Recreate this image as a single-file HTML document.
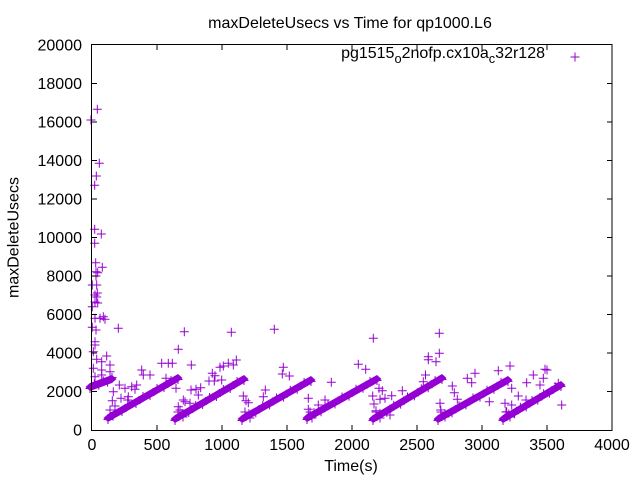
<!DOCTYPE html>
<html>
<head>
<meta charset="utf-8">
<style>
html,body{margin:0;padding:0;background:#fff;}
svg{display:block;}
text{font-family:"Liberation Sans",Arial,sans-serif;font-size:16px;fill:#000;}
</style>
</head>
<body>
<svg width="640" height="480" viewBox="0 0 640 480" xmlns="http://www.w3.org/2000/svg">
<defs>
<path id="p" d="M-4.5,0h9M0,-4.5v9" stroke="#9400D3" stroke-width="1" fill="none"/>
</defs>
<rect x="0" y="0" width="640" height="480" fill="#fff"/>

<g fill="#9400D3" stroke="none">
<polygon points="85.5,387 90,383 112,375 116.5,379 112,383 90,391"/>
<polygon points="103.5,418 108,414 178,374 182.5,378 178,382 108,422"/>
<polygon points="170.5,419 175,415 244,375 248.5,379 244,383 175,423"/>
<polygon points="237.5,419 242,415 311,376 315.5,380 311,384 242,423"/>
<polygon points="302.5,418 307,414 377,375 381.5,379 377,383 307,422"/>
<polygon points="368.5,419 373,415 442,374 446.5,378 442,382 373,423"/>
<polygon points="433.5,419 438,415 508,376 512.5,380 508,384 438,423"/>
<polygon points="498.5,419 503,415 561,381 565.5,385 561,389 503,423"/>
</g>

<g>
<use href="#p" x="90" y="388.5"/><use href="#p" x="94.4" y="383.9"/><use href="#p" x="98.8" y="385.3"/><use href="#p" x="103.2" y="380.7"/><use href="#p" x="107.6" y="382.1"/><use href="#p" x="112" y="377.5"/>
<use href="#p" x="108" y="419.5"/><use href="#p" x="115" y="412.5"/><use href="#p" x="122" y="411.5"/><use href="#p" x="129" y="404.5"/><use href="#p" x="136" y="403.5"/><use href="#p" x="143" y="396.5"/><use href="#p" x="150" y="395.5"/><use href="#p" x="157" y="388.5"/><use href="#p" x="164" y="387.5"/><use href="#p" x="171" y="380.5"/><use href="#p" x="178" y="379.5"/>
<use href="#p" x="175" y="420.5"/><use href="#p" x="181.9" y="413.5"/><use href="#p" x="188.8" y="412.5"/><use href="#p" x="195.7" y="405.5"/><use href="#p" x="202.6" y="404.5"/><use href="#p" x="209.5" y="397.5"/><use href="#p" x="216.4" y="396.5"/><use href="#p" x="223.3" y="389.5"/><use href="#p" x="230.2" y="388.5"/><use href="#p" x="237.1" y="381.5"/><use href="#p" x="244" y="380.5"/>
<use href="#p" x="242" y="420.5"/><use href="#p" x="248.9" y="413.6"/><use href="#p" x="255.8" y="412.7"/><use href="#p" x="262.7" y="405.8"/><use href="#p" x="269.6" y="404.9"/><use href="#p" x="276.5" y="398"/><use href="#p" x="283.4" y="397.1"/><use href="#p" x="290.3" y="390.2"/><use href="#p" x="297.2" y="389.3"/><use href="#p" x="304.1" y="382.4"/><use href="#p" x="311" y="381.5"/>
<use href="#p" x="307" y="419.5"/><use href="#p" x="314" y="412.6"/><use href="#p" x="321" y="411.7"/><use href="#p" x="328" y="404.8"/><use href="#p" x="335" y="403.9"/><use href="#p" x="342" y="397"/><use href="#p" x="349" y="396.1"/><use href="#p" x="356" y="389.2"/><use href="#p" x="363" y="388.3"/><use href="#p" x="370" y="381.4"/><use href="#p" x="377" y="380.5"/>
<use href="#p" x="373" y="420.5"/><use href="#p" x="379.9" y="413.4"/><use href="#p" x="386.8" y="412.3"/><use href="#p" x="393.7" y="405.2"/><use href="#p" x="400.6" y="404.1"/><use href="#p" x="407.5" y="397"/><use href="#p" x="414.4" y="395.9"/><use href="#p" x="421.3" y="388.8"/><use href="#p" x="428.2" y="387.7"/><use href="#p" x="435.1" y="380.6"/><use href="#p" x="442" y="379.5"/>
<use href="#p" x="438" y="420.5"/><use href="#p" x="445" y="413.6"/><use href="#p" x="452" y="412.7"/><use href="#p" x="459" y="405.8"/><use href="#p" x="466" y="404.9"/><use href="#p" x="473" y="398"/><use href="#p" x="480" y="397.1"/><use href="#p" x="487" y="390.2"/><use href="#p" x="494" y="389.3"/><use href="#p" x="501" y="382.4"/><use href="#p" x="508" y="381.5"/>
<use href="#p" x="503" y="420.5"/><use href="#p" x="508.8" y="414.1"/><use href="#p" x="514.6" y="413.7"/><use href="#p" x="520.4" y="407.3"/><use href="#p" x="526.2" y="406.9"/><use href="#p" x="532" y="400.5"/><use href="#p" x="537.8" y="400.1"/><use href="#p" x="543.6" y="393.7"/><use href="#p" x="549.4" y="393.3"/><use href="#p" x="555.2" y="386.9"/><use href="#p" x="561" y="386.5"/>
<use href="#p" x="110" y="410"/><use href="#p" x="113" y="416"/><use href="#p" x="178" y="412"/><use href="#p" x="183" y="417"/><use href="#p" x="245" y="412"/><use href="#p" x="250" y="418"/><use href="#p" x="310" y="412"/><use href="#p" x="312" y="418"/><use href="#p" x="376" y="412"/><use href="#p" x="380" y="418"/><use href="#p" x="441" y="412"/><use href="#p" x="445" y="417"/><use href="#p" x="506" y="412"/><use href="#p" x="510" y="417"/>

<use href="#p" x="97.3" y="109.3"/><use href="#p" x="91" y="120"/><use href="#p" x="99.3" y="163.3"/><use href="#p" x="96.3" y="176"/><use href="#p" x="94.7" y="185.3"/><use href="#p" x="94.7" y="229.3"/><use href="#p" x="101.3" y="234"/><use href="#p" x="94.7" y="243.3"/><use href="#p" x="95.7" y="262.7"/><use href="#p" x="102.3" y="267.3"/><use href="#p" x="96" y="271.7"/><use href="#p" x="97.7" y="272.7"/><use href="#p" x="96" y="276"/><use href="#p" x="92.3" y="285"/><use href="#p" x="96.7" y="285"/><use href="#p" x="97.3" y="293"/><use href="#p" x="95" y="295"/><use href="#p" x="96.7" y="297"/><use href="#p" x="95" y="302"/><use href="#p" x="97.7" y="303"/><use href="#p" x="92.3" y="306.7"/><use href="#p" x="95" y="318.3"/><use href="#p" x="100" y="318.3"/><use href="#p" x="105" y="319.3"/><use href="#p" x="103.3" y="316.7"/><use href="#p" x="92.3" y="327.3"/><use href="#p" x="96" y="330"/><use href="#p" x="95" y="341.7"/><use href="#p" x="95" y="345"/><use href="#p" x="93.3" y="351.7"/><use href="#p" x="96.7" y="359.3"/><use href="#p" x="101.7" y="361.7"/><use href="#p" x="106.7" y="356"/><use href="#p" x="93.3" y="368.3"/><use href="#p" x="101.7" y="370"/><use href="#p" x="110" y="365"/><use href="#p" x="110" y="371.7"/><use href="#p" x="95" y="376.7"/><use href="#p" x="101.7" y="375"/>
<use href="#p" x="118.3" y="328.3"/><use href="#p" x="113.3" y="391.7"/><use href="#p" x="112.3" y="400.7"/><use href="#p" x="119.3" y="385"/><use href="#p" x="125" y="388.3"/><use href="#p" x="131.7" y="386.7"/><use href="#p" x="135" y="389.3"/><use href="#p" x="136.7" y="385"/><use href="#p" x="121" y="398.3"/><use href="#p" x="115" y="406"/><use href="#p" x="128.3" y="396.7"/><use href="#p" x="127.7" y="400"/><use href="#p" x="141.7" y="370"/><use href="#p" x="143.3" y="375"/><use href="#p" x="150" y="375"/><use href="#p" x="178.3" y="349.3"/><use href="#p" x="161.7" y="363.3"/><use href="#p" x="168.3" y="363.3"/><use href="#p" x="172.3" y="363.3"/><use href="#p" x="191.3" y="365"/><use href="#p" x="166" y="378.3"/><use href="#p" x="176" y="388.3"/>
<use href="#p" x="184.3" y="331.7"/><use href="#p" x="231.3" y="332.3"/><use href="#p" x="274.3" y="329.3"/><use href="#p" x="236.3" y="360"/><use href="#p" x="228.3" y="363.3"/><use href="#p" x="233.3" y="365"/><use href="#p" x="223.3" y="366"/><use href="#p" x="220" y="367.3"/><use href="#p" x="283.3" y="367.3"/><use href="#p" x="282.3" y="374"/><use href="#p" x="289.3" y="376"/><use href="#p" x="212.3" y="373.3"/><use href="#p" x="215" y="375.7"/><use href="#p" x="209" y="381"/><use href="#p" x="214.3" y="381"/><use href="#p" x="221.7" y="380"/><use href="#p" x="191" y="390"/><use href="#p" x="196" y="389.3"/><use href="#p" x="200.7" y="387.7"/><use href="#p" x="198.3" y="395"/><use href="#p" x="183.3" y="400"/><use href="#p" x="185" y="401.7"/><use href="#p" x="178.3" y="406.7"/><use href="#p" x="190" y="403.3"/><use href="#p" x="180" y="410"/><use href="#p" x="243.3" y="396"/><use href="#p" x="246" y="400.7"/><use href="#p" x="248.3" y="402.7"/><use href="#p" x="265.3" y="390"/><use href="#p" x="263.3" y="396.7"/><use href="#p" x="308.3" y="398.3"/><use href="#p" x="308.3" y="409.3"/><use href="#p" x="318.3" y="405"/>
<use href="#p" x="373.3" y="338.3"/><use href="#p" x="439.3" y="333.3"/><use href="#p" x="439.3" y="353.3"/><use href="#p" x="428.3" y="356.7"/><use href="#p" x="428.3" y="359.7"/><use href="#p" x="436" y="361.7"/><use href="#p" x="358.3" y="364.3"/><use href="#p" x="365.7" y="369.3"/><use href="#p" x="331.3" y="382.3"/><use href="#p" x="325" y="400"/><use href="#p" x="379" y="388.3"/><use href="#p" x="382.3" y="390.7"/><use href="#p" x="372.7" y="396"/><use href="#p" x="380" y="399.3"/><use href="#p" x="385" y="398.3"/><use href="#p" x="391.7" y="395.7"/><use href="#p" x="374" y="404"/><use href="#p" x="376" y="410.7"/><use href="#p" x="402.3" y="390.7"/><use href="#p" x="425.5" y="375"/><use href="#p" x="423.3" y="381.7"/><use href="#p" x="452.3" y="386"/><use href="#p" x="454.3" y="392.7"/><use href="#p" x="457.3" y="399.3"/><use href="#p" x="440" y="403.3"/><use href="#p" x="440.7" y="410"/><use href="#p" x="390" y="415"/>
<use href="#p" x="467.3" y="378.3"/><use href="#p" x="475" y="373.3"/><use href="#p" x="471.7" y="382.7"/><use href="#p" x="489.3" y="401.7"/><use href="#p" x="498.3" y="370.7"/><use href="#p" x="510" y="366"/><use href="#p" x="511.7" y="388.3"/><use href="#p" x="505" y="403.3"/><use href="#p" x="506.7" y="411.7"/><use href="#p" x="511.7" y="405"/><use href="#p" x="518.3" y="396"/><use href="#p" x="526" y="400"/><use href="#p" x="526.7" y="382.7"/><use href="#p" x="533.3" y="375"/><use href="#p" x="540" y="385"/><use href="#p" x="543.3" y="378.3"/><use href="#p" x="545" y="369.3"/><use href="#p" x="547" y="370"/><use href="#p" x="561.7" y="405"/><use href="#p" x="558.3" y="383.3"/>
<use href="#p" x="575" y="57"/>
</g>

<g stroke="#000" stroke-width="1" fill="none" shape-rendering="crispEdges">
<rect x="91.5" y="44.5" width="520.5" height="386"/>
<path d="M157,430v-5M222,430v-5M287,430v-5M352,430v-5M417,430v-5M482,430v-5M547,430v-5M157,45v5M222,45v5M287,45v5M352,45v5M417,45v5M482,45v5M547,45v5M92,391.5h5M92,353h5M92,314.5h5M92,276h5M92,237.5h5M92,199h5M92,160.5h5M92,122h5M92,83.5h5M612,391.5h-5M612,353h-5M612,314.5h-5M612,276h-5M612,237.5h-5M612,199h-5M612,160.5h-5M612,122h-5M612,83.5h-5"/>
</g>

<g text-anchor="end">
<text x="82" y="435.5">0</text>
<text x="82" y="397">2000</text>
<text x="82" y="358.5">4000</text>
<text x="82" y="320">6000</text>
<text x="82" y="281.5">8000</text>
<text x="82" y="243">10000</text>
<text x="82" y="204.5">12000</text>
<text x="82" y="166">14000</text>
<text x="82" y="127.5">16000</text>
<text x="82" y="89">18000</text>
<text x="82" y="50.5">20000</text>
</g>

<g text-anchor="middle">
<text x="92" y="450">0</text>
<text x="157" y="450">500</text>
<text x="222" y="450">1000</text>
<text x="287" y="450">1500</text>
<text x="352" y="450">2000</text>
<text x="417" y="450">2500</text>
<text x="482" y="450">3000</text>
<text x="547" y="450">3500</text>
<text x="612" y="450">4000</text>
</g>

<text x="350" y="28" text-anchor="middle">maxDeleteUsecs vs Time for qp1000.L6</text>
<text x="351" y="471" text-anchor="middle">Time(s)</text>
<text transform="translate(18.5,237.5) rotate(-90)" text-anchor="middle">maxDeleteUsecs</text>

<text x="545" y="58" text-anchor="end">pg1515<tspan dy="5" style="font-size:12.8px">o</tspan><tspan dy="-5">2nofp.cx10a</tspan><tspan dy="5" style="font-size:12.8px">c</tspan><tspan dy="-5">32r128</tspan></text>
</svg>
</body>
</html>
